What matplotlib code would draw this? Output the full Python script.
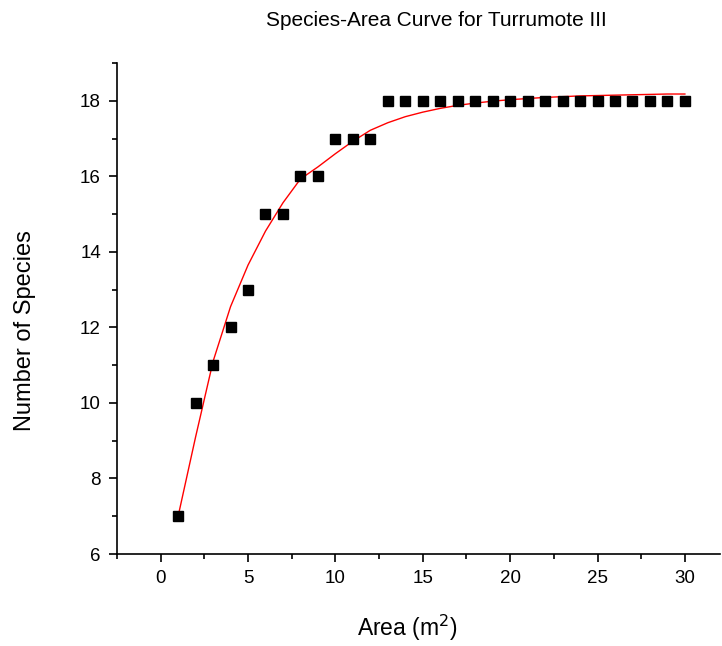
import matplotlib.pyplot as plt
from matplotlib.ticker import MultipleLocator

plt.rcParams['font.family'] = ['Liberation Sans', 'DejaVu Sans']

# Observed species counts per sampled area
area = list(range(1, 31))
species = [7, 10, 11, 12, 13, 15, 15, 16, 16, 17, 17, 17,
           18, 18, 18, 18, 18, 18, 18, 18, 18, 18, 18, 18, 18, 18, 18, 18, 18, 18]

# Fitted curve (sampled at each area)
fit_area = list(range(1, 31))
fit_species = [7.0, 9.1, 11.1, 12.55, 13.65, 14.55, 15.3, 15.93, 16.25, 16.6,
               16.93, 17.22, 17.42, 17.58, 17.7, 17.8, 17.88, 17.94, 17.99, 18.03,
               18.06, 18.09, 18.11, 18.13, 18.14, 18.15, 18.16, 18.17, 18.18, 18.18]

fig = plt.figure(figsize=(7.22, 6.46), dpi=100)
ax = fig.add_axes([0.162, 0.1424, 0.835, 0.760])

ax.plot(area, species, 's', color='black', markersize=7, linestyle='none', zorder=3)
ax.plot(fit_area, fit_species, '-', color='red', linewidth=1.0, zorder=2)

ax.set_xlim(-2.5, 32)
ax.set_ylim(6, 19)
ax.xaxis.set_major_locator(MultipleLocator(5))
ax.xaxis.set_minor_locator(MultipleLocator(2.5))
ax.yaxis.set_major_locator(MultipleLocator(2))
ax.yaxis.set_minor_locator(MultipleLocator(1))

for side in ['top', 'right']:
    ax.spines[side].set_visible(False)
for side in ['left', 'bottom']:
    ax.spines[side].set_linewidth(1.2)

ax.tick_params(which='major', direction='out', length=5.5, width=1.2, labelsize=13.5, pad=6)
ax.tick_params(which='minor', direction='out', length=3.5, width=1.2)

fig.text(0.605, 0.968, 'Species-Area Curve for Turrumote III', ha='center', va='center', fontsize=15)
fig.text(0.5645, 0.028, 'Area (m$^2$)', ha='center', va='center', fontsize=16.5)
fig.text(0.034, 0.489, 'Number of Species', ha='center', va='center', rotation=90, fontsize=17)

fig.savefig('out.png', dpi=100)
